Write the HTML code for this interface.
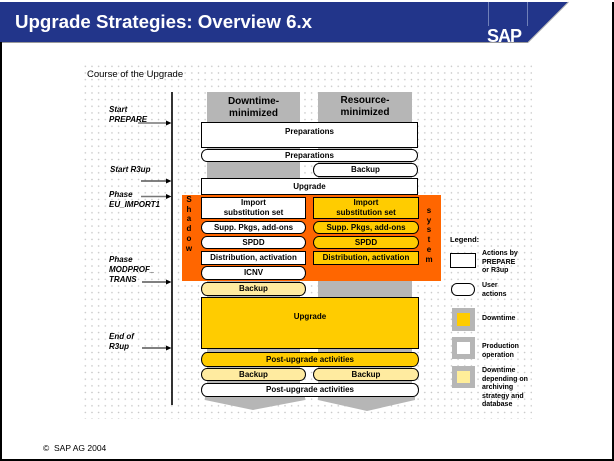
<!DOCTYPE html>
<html><head><meta charset="utf-8">
<style>
html,body{margin:0;padding:0;}
body{width:614px;height:461px;position:relative;overflow:hidden;background:#fff;font-family:"Liberation Sans",Arial,sans-serif;}
.a{position:absolute;box-sizing:border-box;}
.dots{left:82px;top:63px;width:450px;height:356px;background-image:radial-gradient(circle,#c4c4c4 0.6px,transparent 0.9px);background-size:6.67px 6.67px;}
.b{position:absolute;box-sizing:border-box;border:1px solid #000;font-weight:bold;font-size:8px;line-height:10px;display:flex;align-items:center;justify-content:center;text-align:center;color:#000;white-space:nowrap;}
.u{border-radius:6px/50%;}
.w{background:#fff;}
.g{background:#ffcc00;}
.y{background:#ffeba0;}
.t{position:absolute;font-size:8px;line-height:10px;color:#000;white-space:nowrap;}
.lab{font-style:italic;font-weight:bold;}
.leg{font-weight:bold;font-size:7px;line-height:8.6px;}
.col{font-weight:bold;font-size:10px;line-height:12px;text-align:center;position:absolute;}
.v{position:absolute;font-weight:bold;font-size:8px;width:10px;text-align:center;line-height:9.7px;}
</style></head>
<body>
<div class="a dots"></div>
<svg class="a" style="left:0;top:0" width="614" height="461" viewBox="0 0 614 461">
  <!-- header -->
  <polygon points="0,2 568,2 528,42 0,42" fill="#22358a"/>
  <line x1="0" y1="42.5" x2="528" y2="42.5" stroke="#9a9a9a" stroke-width="1"/>
  <line x1="528" y1="42.5" x2="568.5" y2="2" stroke="#b0b0b0" stroke-width="1"/>
  <line x1="488.5" y1="2" x2="488.5" y2="26" stroke="#7080b8" stroke-width="1"/>
  <line x1="527.5" y1="2" x2="527.5" y2="26" stroke="#7080b8" stroke-width="1"/>
  <text x="15" y="28" font-family="Liberation Sans, Arial, sans-serif" font-weight="bold" font-size="18.7" fill="#fff">Upgrade Strategies: Overview 6.x</text>
  <text x="487" y="42" font-family="Liberation Sans, Arial, sans-serif" font-weight="bold" font-size="18" fill="#fff" letter-spacing="-1">SAP</text>
  <!-- borders -->
  <rect x="0" y="42" width="2" height="419" fill="#000"/>
  <rect x="612" y="2" width="2" height="459" fill="#000"/>
  <rect x="0" y="459" width="614" height="2" fill="#000"/>
  <!-- gray columns -->
  <polygon points="207,92 300,92 300,397 305,397 305,400 253,410 205,400 205,397 207,397" fill="#b6b6b6"/>
  <polygon points="318,92 412,92 412,397 415,397 415,400 367,411 318,400" fill="#b6b6b6"/>
  <!-- timeline -->
  <line x1="172" y1="92" x2="172" y2="405" stroke="#000" stroke-width="1.6"/>
  <line x1="138" y1="123" x2="167" y2="123" stroke="#777" stroke-width="1.6"/>
  <polygon points="166,120.5 171.5,123 166,125.5" fill="#000"/>
  <line x1="141" y1="181" x2="167" y2="181" stroke="#000" stroke-width="1"/>
  <polygon points="166,178.5 171.5,181 166,183.5" fill="#000"/>
  <line x1="141" y1="196.5" x2="167" y2="196.5" stroke="#777" stroke-width="1.6"/>
  <polygon points="166,194 171.5,196.5 166,199" fill="#000"/>
  <line x1="142" y1="282" x2="167" y2="282" stroke="#000" stroke-width="1"/>
  <polygon points="166,279.5 171.5,282 166,284.5" fill="#000"/>
  <line x1="142" y1="348" x2="167" y2="348" stroke="#000" stroke-width="1"/>
  <polygon points="166,345.5 171.5,348 166,350.5" fill="#000"/>
</svg>

<div class="t" style="left:87px;top:69px;font-size:9.5px;line-height:12px;">Course of the Upgrade</div>

<div class="t lab" style="left:109px;top:105px;">Start<br>PREPARE</div>
<div class="t lab" style="left:110px;top:165px;">Start R3up</div>
<div class="t lab" style="left:109px;top:190px;">Phase<br>EU_IMPORT1</div>
<div class="t lab" style="left:109px;top:255px;">Phase<br>MODPROF_<br>TRANS</div>
<div class="t lab" style="left:109px;top:332px;">End of<br>R3up</div>

<div class="col" style="left:207px;top:96px;width:93px;">Downtime-<br>minimized</div>
<div class="col" style="left:318px;top:95px;width:94px;">Resource-<br>minimized</div>

<div class="b w" style="left:201px;top:122px;width:217px;height:26px;padding-bottom:6px;">Preparations</div>
<div class="b w u" style="left:201px;top:149px;width:217px;height:13px;">Preparations</div>
<div class="b w u" style="left:313px;top:163px;width:105px;height:14px;">Backup</div>
<div class="b w" style="left:201px;top:178px;width:217px;height:17px;">Upgrade</div>

<div class="a" style="left:182px;top:195px;width:259px;height:86px;background:#ff6600;"></div>
<div class="v" style="left:184px;top:195px;">S<br>h<br>a<br>d<br>o<br>w</div>
<div class="v" style="left:424px;top:206px;">s<br>y<br>s<br>t<br>e<br>m</div>

<div class="b w" style="left:201px;top:197px;width:105px;height:22px;">Import<br>substitution set</div>
<div class="b w u" style="left:201px;top:221px;width:105px;height:13px;">Supp. Pkgs, add-ons</div>
<div class="b w u" style="left:201px;top:236px;width:105px;height:13px;">SPDD</div>
<div class="b w" style="left:201px;top:251px;width:105px;height:14px;">Distribution, activation</div>
<div class="b w u" style="left:201px;top:266px;width:105px;height:14px;">ICNV</div>
<div class="b y u" style="left:201px;top:282px;width:105px;height:14px;">Backup</div>

<div class="b g" style="left:313px;top:197px;width:106px;height:22px;">Import<br>substitution set</div>
<div class="b g u" style="left:313px;top:221px;width:106px;height:13px;">Supp. Pkgs, add-ons</div>
<div class="b g u" style="left:313px;top:236px;width:106px;height:13px;">SPDD</div>
<div class="b g" style="left:313px;top:251px;width:106px;height:14px;">Distribution, activation</div>

<div class="b g" style="left:201px;top:297px;width:218px;height:52px;padding-bottom:12px;">Upgrade</div>
<div class="b g u" style="left:201px;top:352px;width:218px;height:15px;">Post-upgrade activities</div>
<div class="b y u" style="left:201px;top:368px;width:105px;height:13px;">Backup</div>
<div class="b y u" style="left:313px;top:368px;width:106px;height:13px;">Backup</div>
<div class="b w u" style="left:201px;top:383px;width:218px;height:14px;">Post-upgrade activities</div>

<!-- legend -->
<div class="t" style="left:450px;top:235px;font-weight:bold;font-size:7.5px;">Legend:</div>
<div class="b w" style="left:450px;top:253px;width:26px;height:15px;"></div>
<div class="t leg" style="left:482px;top:250px;">Actions by<br>PREPARE<br>or R3up</div>
<div class="b w u" style="left:451px;top:283px;width:24px;height:13px;"></div>
<div class="t leg" style="left:482px;top:282px;">User<br>actions</div>
<div class="a" style="left:452px;top:308px;width:23px;height:23px;background:#b6b6b6;"></div>
<div class="a" style="left:457px;top:313px;width:13px;height:13px;background:#ffcc00;"></div>
<div class="t leg" style="left:482px;top:315px;">Downtime</div>
<div class="a" style="left:452px;top:337px;width:23px;height:22px;background:#b6b6b6;"></div>
<div class="a" style="left:457px;top:342px;width:13px;height:12px;background:#fff;"></div>
<div class="t leg" style="left:482px;top:343px;">Production<br>operation</div>
<div class="a" style="left:452px;top:366px;width:23px;height:22px;background:#b6b6b6;"></div>
<div class="a" style="left:457px;top:371px;width:13px;height:12px;background:#ffee99;"></div>
<div class="t leg" style="left:482px;top:367px;">Downtime<br>depending on<br>archiving<br>strategy and<br>database</div>

<div class="t" style="left:43px;top:443px;font-size:8.5px;">©&nbsp; SAP AG 2004</div>
</body></html>
